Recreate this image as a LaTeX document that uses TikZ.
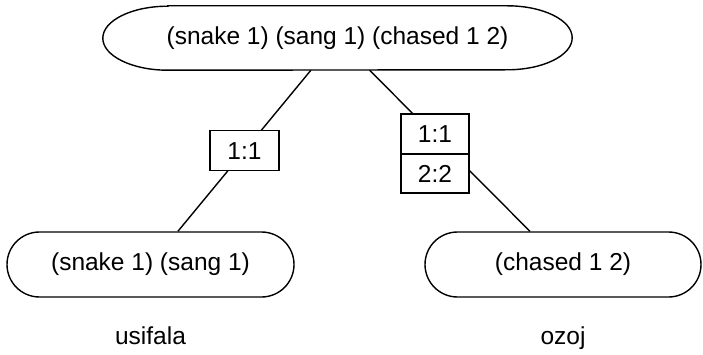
\documentclass[tikz,border=0pt]{standalone}
\usepackage{fontspec}
\setmainfont{Liberation Sans}
\usetikzlibrary{shapes.misc}
\begin{document}
\begin{tikzpicture}[x=1pt,y=1pt,
  lw/.style={line width=1.4pt},
  every node/.style={font=\fontsize{24.5}{29}\selectfont},
  textnode/.style={rectangle, inner sep=0pt},
  leaf/.style={rounded rectangle, draw, lw, inner sep=0pt, minimum width=287pt, minimum height=65pt},
  lbox/.style={rectangle, draw, lw, fill=white, inner sep=0pt, outer sep=0pt, minimum width=69pt, minimum height=40pt},
  caption/.style={anchor=base, inner sep=0pt}]
\useasboundingbox (0,0) rectangle (703,-355);
% top node with elliptical ends
\node[textnode, minimum width=469pt, minimum height=64pt] (T) at (337.5,-38) {(snake 1) (sang 1) (chased 1 2)};
\draw[lw] ([xshift=65pt]T.north west) -- ([xshift=-65pt]T.north east)
  arc[start angle=90, end angle=-90, x radius=65pt, y radius=32pt]
  -- ([xshift=65pt]T.south west)
  arc[start angle=270, end angle=90, x radius=65pt, y radius=32pt] -- cycle;
% leaves
\node[leaf] (L) at (150.5,-264.5) {(snake 1) (sang 1)};
\node[leaf, minimum width=276pt] (R) at (563,-264.5) {(chased 1 2)};
% edges
\draw[lw] (T) -- node[lbox] (m1) {1:1} (L);
\draw[lw] (T) -- (R);
\node[lbox, minimum width=68pt] (m2) at (435,-134) {1:1};
\node[lbox, minimum width=68pt, minimum height=39pt, anchor=north] (m3) at (m2.south) {2:2};
% captions
\node[caption] (c1) at (150.5,-344) {usifala};
\node[caption] (c2) at (563,-344) {ozoj};
\end{tikzpicture}
\end{document}
